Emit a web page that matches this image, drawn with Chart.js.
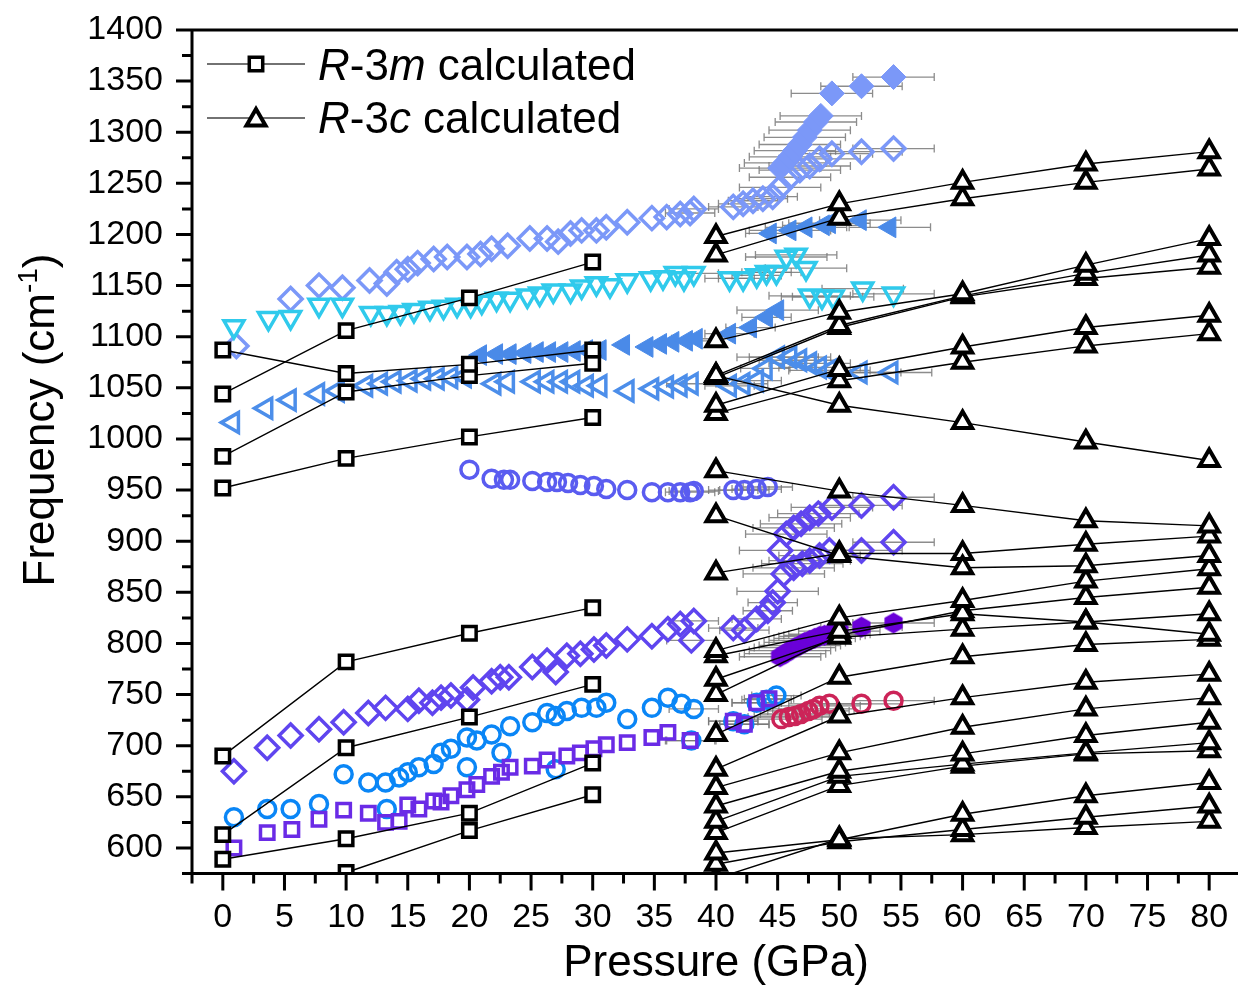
<!DOCTYPE html>
<html>
<head>
<meta charset="utf-8">
<script src="https://cdn.jsdelivr.net/npm/chart.js@4.4.0/dist/chart.umd.min.js"></script>
<style>
  html, body { margin: 0; padding: 0; background: #fff; overflow: hidden; }
  #wrap { width: 1238px; height: 990px; overflow: hidden; }
  canvas { display: block; }
</style>
</head>
<body>
<div id="wrap"><canvas id="chart" width="1255" height="990"></canvas></div>
<script>
const FONT = '"Liberation Sans", Arial, Helvetica, sans-serif';

// ── Axis ticks ──────────────────────────────────────────────────────────────
const xLabels = [0, 5, 10, 15, 20, 25, 30, 35, 40, 45, 50, 55, 60, 65, 70, 75, 80];
const xMinor  = [-2.5, 2.5, 7.5, 12.5, 17.5, 22.5, 27.5, 32.5, 37.5, 42.5, 47.5, 52.5, 57.5, 62.5, 67.5, 72.5, 77.5, 82.5];
const yLabels = [600, 650, 700, 750, 800, 850, 900, 950, 1000, 1050, 1100, 1150, 1200, 1250, 1300, 1350, 1400];
const yMinor  = [575, 625, 675, 725, 775, 825, 875, 925, 975, 1025, 1075, 1125, 1175, 1225, 1275, 1325, 1375];

// ── Calculated modes (black, joined) ─────────────────────────────────────────
const r3mPressure = [0, 10, 20, 30];
const r3mModes = [
  [1087, 1064, 1073, 1087],
  [1044, 1106, 1138, 1173],
  [983, 1046, 1062, 1074],
  [952, 981, 1002, 1021],
  [690, 782, 810, 835],
  [613, 698, 728, 760],
  [589, 609, 634, 683],
  [null, 576, 617, 652]
];
const r3cPressure = [40, 50, 60, 70, 80];
const r3cModes = [
  [1198, 1230, 1251, 1269, 1281],
  [1180, 1216, 1235, 1251, 1264],
  [1096, 1124, 1142, 1170, 1196],
  [1062, 1111, 1140, 1162, 1180],
  [1060, 1109, 1139, 1157, 1168],
  [1033, 1068, 1090, 1109, 1121],
  [1025, 1057, 1075, 1091, 1103],
  [1062, 1033, 1016, 997, 979],
  [969, 949, 935, 920, 915],
  [925, 886, 874, 876, 886],
  [869, 888, 888, 897, 905],
  [793, 825, 842, 861, 873],
  [788, 812, 829, 821, 809],
  [765, 806, 814, 821, 829],
  [750, 808, 832, 845, 855],
  [711, 767, 787, 799, 804],
  [677, 729, 747, 762, 770],
  [659, 693, 718, 736, 747],
  [641, 675, 692, 710, 723],
  [626, 670, 682, 693, 703],
  [615, 661, 680, 692, 695],
  [595, 608, 633, 651, 664],
  [584, 606, 618, 630, 641],
  [570, 609, 613, 620, 626]
];

// ── Experimental modes ───────────────────────────────────────────────────────
const lightDiaP = [1.1, 5.5, 7.8, 9.7, 11.9, 13.3, 14.1, 15.0, 15.8, 17.1, 18.2, 19.8, 20.9, 21.8, 23.1, 24.9, 26.3, 27.2, 28.2, 29.1, 30.3, 31.1, 32.8, 34.8, 36.0, 37.1, 37.9, 38.2, 41.4, 42.2, 43.0, 43.8, 44.6, 45.2, 46.0, 46.8, 47.6, 48.4, 49.4, 51.8, 54.4];
const lightDiaF = [1091, 1137, 1150, 1148, 1155, 1152, 1163, 1166, 1172, 1176, 1178, 1178, 1181, 1186, 1189, 1196, 1196, 1193, 1201, 1204, 1204, 1207, 1212, 1216, 1217, 1220, 1221, 1225, 1227, 1230, 1233, 1235, 1237, 1246, 1256, 1263, 1267, 1274, 1279, 1281, 1284];

const lightDiaFillP = [45.2, 45.6, 46.0, 46.4, 46.8, 47.2, 47.6, 48.1, 48.5, 49.4, 51.8, 54.4];
const lightDiaFillF = [1265, 1270, 1276, 1282, 1288, 1295, 1302, 1310, 1316, 1338, 1345, 1354];

const cyanTriP = [0.9, 3.7, 5.5, 7.8, 9.7, 12.0, 13.3, 14.4, 15.5, 16.8, 17.9, 19.0, 20.1, 21.0, 22.2, 23.3, 24.7, 25.7, 26.8, 28.2, 29.1, 30.3, 31.4, 32.8, 34.7, 35.7, 36.7, 37.4, 38.2, 41.1, 42.2, 43.3, 44.1, 44.9, 45.7, 46.5, 47.3, 47.6, 48.6, 49.5, 51.9, 54.4];
const cyanTriF = [1110, 1118, 1119, 1131, 1131, 1123, 1123, 1124, 1126, 1128, 1129, 1131, 1131, 1134, 1137, 1137, 1140, 1142, 1145, 1145, 1149, 1152, 1150, 1155, 1157, 1158, 1162, 1157, 1162, 1157, 1157, 1160, 1163, 1163, 1178, 1180, 1167, 1140, 1139, 1139, 1147, 1142];

const leftTriP = [0.8, 3.5, 5.4, 7.7, 9.3, 11.6, 12.8, 13.9, 15.2, 16.3, 17.4, 18.5, 19.6, 22.0, 23.1, 25.2, 26.3, 27.4, 28.4, 29.5, 30.6, 32.8, 34.8, 36.0, 37.1, 38.0, 41.1, 42.2, 43.3, 44.0, 45.0, 46.0, 46.8, 47.6, 48.4, 49.2, 51.7, 54.2];
const leftTriF = [1016, 1030, 1038, 1044, 1047, 1052, 1054, 1056, 1057, 1059, 1059, 1060, 1061, 1054, 1056, 1056, 1056, 1056, 1056, 1052, 1052, 1047, 1049, 1051, 1052, 1054, 1052, 1054, 1057, 1069, 1080, 1080, 1077, 1074, 1070, 1067, 1065, 1065];

const leftTriFillP = [20.9, 22.2, 23.3, 24.5, 25.5, 26.5, 27.5, 28.5, 29.5, 30.6, 32.5, 34.4, 35.5, 36.5, 37.6, 38.4, 41.1, 42.8, 44.1, 45.0, 44.4, 46.0, 47.3, 48.7, 49.2, 51.7, 54.1];
const leftTriFillF = [1082, 1083, 1083, 1084, 1085, 1085, 1085, 1086, 1087, 1087, 1092, 1090, 1093, 1095, 1096, 1098, 1103, 1109, 1119, 1126, 1201, 1204, 1207, 1209, 1211, 1214, 1207];

const violetCircP = [20.0, 21.8, 22.8, 23.3, 25.1, 26.3, 27.1, 28.0, 29.0, 30.1, 31.1, 32.8, 34.8, 36.1, 37.1, 37.9, 38.2, 41.4, 42.3, 43.3, 44.2];
const violetCircF = [970, 961, 960, 960, 959, 958, 958, 957, 955, 954, 951, 950, 948, 948, 948, 948, 949, 950, 950, 951, 953];

const purpleDiaP = [0.9, 3.6, 5.5, 7.8, 9.8, 11.8, 13.2, 15.0, 15.9, 17.0, 17.7, 18.5, 19.8, 20.3, 21.8, 22.5, 23.2, 25.1, 26.3, 27.0, 27.9, 29.0, 30.1, 31.1, 32.8, 34.8, 36.1, 37.1, 38.2, 38.0, 41.4, 42.3, 43.3, 44.2, 44.6, 45.0, 45.2, 45.7, 46.3, 46.9, 47.6, 48.3, 49.4, 51.8, 54.4, 45.5, 46.3, 47.0, 47.6, 48.4, 49.2, 51.8, 54.4];
const purpleDiaF = [675, 698, 710, 716, 723, 732, 737, 736, 744, 742, 747, 749, 745, 757, 763, 767, 767, 777, 783, 772, 788, 790, 794, 798, 804, 807, 814, 819, 822, 803, 815, 813, 824, 832, 840, 851, 891, 907, 913, 917, 923, 927, 933, 935, 943, 868, 874, 878, 881, 886, 891, 891, 899];

const blueCircP = [0.9, 3.6, 5.5, 7.8, 9.8, 11.8, 13.2, 14.3, 15.0, 15.9, 17.1, 17.7, 18.5, 19.8, 20.6, 21.8, 22.6, 23.3, 25.1, 26.3, 27.0, 27.9, 29.1, 30.3, 31.1, 32.8, 34.8, 36.1, 37.2, 38.2, 38.0, 13.3, 19.8, 27.0, 41.4, 42.3, 43.3, 44.1, 44.9];
const blueCircF = [630, 638, 638, 643, 672, 664, 664, 669, 674, 679, 682, 693, 697, 708, 705, 711, 693, 719, 723, 732, 729, 734, 737, 737, 742, 726, 737, 747, 741, 736, 705, 638, 679, 677, 724, 721, 742, 745, 749];

const purpleSqP = [0.9, 3.6, 5.6, 7.8, 9.8, 11.8, 13.2, 14.3, 15.0, 15.9, 17.1, 17.7, 18.5, 19.8, 20.6, 21.8, 22.6, 23.3, 25.1, 26.3, 27.9, 29.0, 30.1, 31.1, 32.8, 34.8, 36.1, 37.9, 41.4, 42.3, 43.3, 44.3];
const purpleSqF = [600, 615, 618, 628, 637, 634, 625, 626, 642, 638, 646, 645, 651, 657, 662, 670, 674, 679, 680, 686, 690, 693, 697, 701, 703, 708, 713, 705, 724, 721, 742, 746];

const hexP = [45.2, 45.6, 46.0, 46.4, 46.8, 47.2, 47.6, 48.0, 48.4, 48.8, 49.2, 50.0, 51.8, 54.4];
const hexF = [787, 790, 793, 796, 798, 801, 803, 805, 807, 808, 809, 812, 816, 820];

const crimsonP = [45.3, 45.9, 46.4, 46.9, 47.5, 47.9, 48.4, 49.2, 51.8, 54.4];
const crimsonF = [726, 728, 729, 731, 734, 736, 739, 741, 741, 744];

// pressure uncertainty (GPa) drawn as grey horizontal bars above ~38 GPa
const errFrom = 37.5, errSmall = 2.0, errLarge = 3.3, errSwitch = 45;

// ── Helpers ──────────────────────────────────────────────────────────────────
function pts(P, F) {
  return P.map((p, i) => ({ x: p, y: F[i] })).filter(d => d.y != null);
}

function hexagon(r, color) {
  const c = document.createElement('canvas');
  c.width = c.height = 2 * r + 2;
  const g = c.getContext('2d');
  g.fillStyle = color;
  g.beginPath();
  for (let i = 0; i < 6; i++) {
    const a = Math.PI / 3 * i + Math.PI / 6;
    g.lineTo(r + 1 + r * Math.cos(a), r + 1 + r * Math.sin(a));
  }
  g.closePath();
  g.fill();
  return c;
}

// marker sizes for the calculated symbols
const SQ_R = 9.5, TRI_R = 11;

function calcSet(P, F, style) {
  return {
    data: pts(P, F), showLine: true, borderColor: '#000', borderWidth: 1.4,
    pointStyle: style, pointRadius: style === 'rect' ? SQ_R : TRI_R, pointBorderWidth: style === 'rect' ? 3.5 : 4,
    pointBorderColor: '#000', pointBackgroundColor: '#fff'
  };
}

function expSet(P, F, color, style, opts = {}) {
  return Object.assign({
    data: pts(P, F), showLine: false, pointStyle: style,
    pointRadius: 8.5, pointBorderWidth: 3.5, pointBorderColor: color,
    pointBackgroundColor: 'rgba(0,0,0,0)', errX: true
  }, opts);
}

// ── Datasets (first drawn on top) ────────────────────────────────────────────
const datasets = [];
r3cModes.forEach(m => datasets.push(calcSet(r3cPressure, m, 'triangle')));
r3mModes.forEach(m => datasets.push(calcSet(r3mPressure, m, 'rect')));

datasets.push(expSet(hexP, hexF, '#6a00d8', hexagon(10.5, '#6a00d8'), { pointBorderWidth: 0 }));
datasets.push(expSet(crimsonP, crimsonF, '#cc2458', 'circle'));
datasets.push(expSet(purpleSqP, purpleSqF, '#6a2be6', 'rect', { pointRadius: 9.5 }));
datasets.push(expSet(blueCircP, blueCircF, '#0a86f6', 'circle'));
datasets.push(expSet(purpleDiaP, purpleDiaF, '#5f45ef', 'rectRot', { pointRadius: 11.5 }));
datasets.push(expSet(violetCircP, violetCircF, '#5a5cf0', 'circle'));
datasets.push(expSet(leftTriFillP, leftTriFillF, '#4a8ae8', 'triangle', { pointRadius: 12, pointRotation: 270, pointBackgroundColor: '#4a8ae8', pointBorderWidth: 1 }));
datasets.push(expSet(leftTriP, leftTriF, '#4c8eea', 'triangle', { pointRadius: 11.5, pointRotation: 270 }));
datasets.push(expSet(cyanTriP, cyanTriF, '#30caec', 'triangle', { pointRadius: 11.5, pointRotation: 180 }));
datasets.push(expSet(lightDiaFillP, lightDiaFillF, '#7b98f8', 'rectRot', { pointRadius: 12.5, pointBackgroundColor: '#7b98f8', pointBorderWidth: 1 }));
datasets.push(expSet(lightDiaP, lightDiaF, '#7b98f8', 'rectRot', { pointRadius: 11.5 }));

// ── Frame, ticks, error bars, y title and legend ────────────────────────────
function richText(ctx, parts, x, y, size) {
  parts.forEach(([t, it]) => {
    ctx.font = (it ? 'italic ' : '') + size + 'px ' + FONT;
    ctx.fillText(t, x, y);
    x += ctx.measureText(t).width;
  });
}

function legendMarker(ctx, style, x, y) {
  ctx.save();
  ctx.strokeStyle = '#000';
  ctx.fillStyle = '#fff';
  ctx.beginPath();
  if (style === 'rect') {
    const s = SQ_R * Math.SQRT1_2;
    ctx.lineWidth = 3.5;
    ctx.rect(x - s, y - s, 2 * s, 2 * s);
  } else {
    ctx.lineWidth = 4;
    for (let i = 0; i < 3; i++) {
      const a = i * 2 * Math.PI / 3;
      ctx.lineTo(x + Math.sin(a) * TRI_R, y - Math.cos(a) * TRI_R);
    }
    ctx.closePath();
  }
  ctx.fill();
  ctx.stroke();
  ctx.restore();
}

const framePlugin = {
  id: 'frame',
  beforeDatasetsDraw(chart) {
    const { ctx, scales: { x, y } } = chart;
    ctx.save();
    ctx.strokeStyle = 'rgba(120,120,120,0.85)';
    ctx.lineWidth = 1.3;
    chart.data.datasets.forEach(ds => {
      if (!ds.errX) return;
      ds.data.forEach(d => {
        if (d.x < errFrom) return;
        const e = d.x >= errSwitch ? errLarge : errSmall;
        const x0 = x.getPixelForValue(d.x - e), x1 = x.getPixelForValue(d.x + e);
        const py = y.getPixelForValue(d.y);
        ctx.beginPath();
        ctx.moveTo(x0, py); ctx.lineTo(x1, py);
        ctx.moveTo(x0, py - 4); ctx.lineTo(x0, py + 4);
        ctx.moveTo(x1, py - 4); ctx.lineTo(x1, py + 4);
        ctx.stroke();
      });
    });
    ctx.restore();
  },
  afterDraw(chart) {
    const { ctx, chartArea: { left, right, top, bottom }, scales: { x, y } } = chart;
    ctx.save();
    ctx.strokeStyle = '#000';
    ctx.lineWidth = 3;
    ctx.lineCap = 'butt';
    ctx.beginPath();
    ctx.moveTo(left, bottom + 1.5); ctx.lineTo(left, top - 1.5);
    ctx.moveTo(left - 1.5, top); ctx.lineTo(right + 10, top);
    ctx.moveTo(left - 1.5, bottom); ctx.lineTo(right + 10, bottom);
    xLabels.forEach(v => { const px = x.getPixelForValue(v); ctx.moveTo(px, bottom); ctx.lineTo(px, bottom + 17); });
    xMinor.forEach(v => { const px = x.getPixelForValue(v); ctx.moveTo(px, bottom); ctx.lineTo(px, bottom + 10); });
    yLabels.forEach(v => { const py = y.getPixelForValue(v); ctx.moveTo(left, py); ctx.lineTo(left - 16, py); });
    yMinor.forEach(v => { const py = y.getPixelForValue(v); ctx.moveTo(left, py); ctx.lineTo(left - 10, py); });
    ctx.stroke();

    // y title with superscript
    ctx.fillStyle = '#000';
    ctx.translate(54, 420);
    ctx.rotate(-Math.PI / 2);
    ctx.textBaseline = 'alphabetic';
    ctx.font = '44px ' + FONT;
    const a = 'Frequency (cm', c = ')';
    const wa = ctx.measureText(a).width, wc = ctx.measureText(c).width;
    ctx.font = '28px ' + FONT;
    const wb = ctx.measureText('-1').width;
    let x0 = -(wa + wb + wc) / 2;
    ctx.font = '44px ' + FONT;
    ctx.fillText(a, x0, 0);
    ctx.font = '28px ' + FONT;
    ctx.fillText('-1', x0 + wa, -17);
    ctx.font = '44px ' + FONT;
    ctx.fillText(c, x0 + wa + wb, 0);
    ctx.setTransform(1, 0, 0, 1, 0, 0);

    // legend
    ctx.strokeStyle = '#444';
    ctx.lineWidth = 1.4;
    ctx.beginPath();
    ctx.moveTo(207, 64); ctx.lineTo(305, 64);
    ctx.moveTo(207, 118); ctx.lineTo(305, 118);
    ctx.stroke();
    legendMarker(ctx, 'rect', 256, 64);
    legendMarker(ctx, 'triangle', 256, 120);
    ctx.fillStyle = '#000';
    ctx.textBaseline = 'alphabetic';
    richText(ctx, [['R', true], ['-3', false], ['m', true], [' calculated', false]], 318, 80, 44);
    richText(ctx, [['R', true], ['-3', false], ['c', true], [' calculated', false]], 318, 133, 44);
    ctx.restore();
  }
};

new Chart(document.getElementById('chart').getContext('2d'), {
  type: 'scatter',
  data: { datasets },
  options: {
    responsive: false,
    animation: false,
    events: [],
    layout: { padding: { top: 30, right: 3, left: 0, bottom: 0 } },
    plugins: { legend: { display: false }, tooltip: { enabled: false } },
    scales: {
      x: {
        type: 'linear', min: -2.5, max: 82.5,
        afterBuildTicks: s => { s.ticks = xLabels.map(v => ({ value: v })); },
        afterFit: s => { s.height = 116.5; s.paddingLeft = 0; s.paddingRight = 0; },
        grid: { display: false, drawTicks: false },
        border: { display: false },
        ticks: { autoSkip: false, maxRotation: 0, minRotation: 0, padding: 24, color: '#000',
                 font: { family: FONT, size: 34 }, callback: v => String(v) },
        title: { display: true, text: 'Pressure (GPa)', color: '#000',
                 font: { family: FONT, size: 44 }, padding: { top: 0, bottom: 0 } }
      },
      y: {
        type: 'linear', min: 575, max: 1400,
        afterBuildTicks: s => { s.ticks = yLabels.map(v => ({ value: v })); },
        afterFit: s => { s.width = 192; s.paddingTop = 0; s.paddingBottom = 0; },
        grid: { display: false, drawTicks: false },
        border: { display: false },
        ticks: { autoSkip: false, padding: 29, color: '#000',
                 font: { family: FONT, size: 34 }, callback: v => String(v) }
      }
    }
  },
  plugins: [framePlugin]
});
</script>
</body>
</html>
